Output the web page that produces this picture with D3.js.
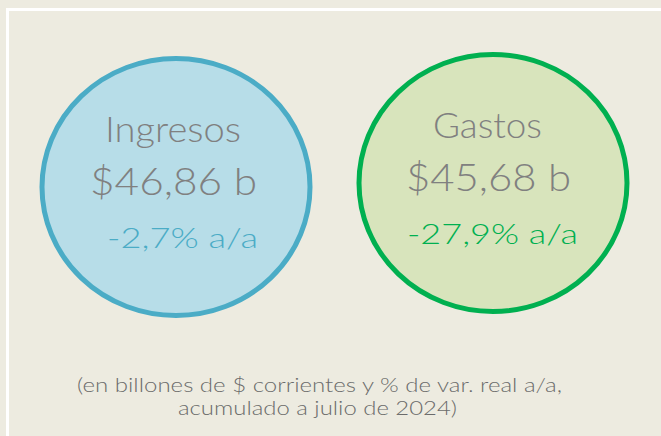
<!DOCTYPE html>
<html>
<head>
<script src="https://d3js.org/d3.v7.min.js"></script>
<style>
  body { margin: 0; background: #EDEBE0; }
  svg text { font-family: Lato, "Open Sans", sans-serif; font-weight: 300; }
</style>
</head>
<body>
<svg id="chart" width="661" height="436"></svg>
<script>
  // datos
  var categories = ["Ingresos", "Gastos"];
  var amounts = [46.86, 45.68];          // billones de $
  var changes = [-2.7, -27.9];           // % var. real a/a
  var strokeColors = ["#4BACC6", "#00B050"];
  var fillColors = ["#B7DDE8", "#D8E4BC"];
  var note = ["(en billones de $ corrientes y % de var. real a/a,", "acumulado a julio de 2024)"];

  var fmt = function(v) { return v.toFixed(2).replace(".", ","); };
  var fmtPct = function(v) { return v.toFixed(1).replace(".", ",") + "% a/a"; };

  var svg = d3.select("#chart");
  svg.append("rect").attr("width", 661).attr("height", 436).attr("fill", "#EDEBE0");

  // marco blanco
  svg.append("path")
    .attr("d", "M7.5,436V9.5H661")
    .attr("fill", "none").attr("stroke", "#fff").attr("stroke-width", 3);

  var x = d3.scalePoint().domain(categories).range([176, 493]);
  var y = d3.scalePoint().domain(categories).range([187, 183]);

  var data = categories.map(function(c, i) {
    return { name: c, amount: amounts[i], change: changes[i], stroke: strokeColors[i], fill: fillColors[i] };
  });

  var g = svg.selectAll("g.bubble").data(data).enter().append("g")
    .attr("class", "bubble")
    .attr("transform", function(d) { return "translate(" + x(d.name) + "," + y(d.name) + ")"; });

  g.append("ellipse")
    .attr("rx", 134).attr("ry", 128.5)
    .attr("fill", function(d) { return d.fill; })
    .attr("stroke", function(d) { return d.stroke; })
    .attr("stroke-width", 5);

  g.append("text")
    .attr("x", function(d, i) { return i === 0 ? -3 : -5.5; })
    .attr("y", -45)
    .attr("text-anchor", "middle")
    .attr("font-size", 35)
    .attr("fill", "#808080")
    .attr("textLength", function(d, i) { return i === 0 ? 136 : 109; })
    .attr("lengthAdjust", "spacingAndGlyphs")
    .text(function(d) { return d.name; });

  g.append("text")
    .attr("x", function(d, i) { return i === 0 ? -2.5 : -4.5; })
    .attr("y", 8)
    .attr("text-anchor", "middle")
    .attr("font-size", 38)
    .attr("fill", "#808080")
    .attr("textLength", function(d, i) { return i === 0 ? 167 : 165; })
    .attr("lengthAdjust", "spacingAndGlyphs")
    .text(function(d) { return "$" + fmt(d.amount) + " b"; });

  g.append("text")
    .attr("x", function(d, i) { return i === 0 ? 6.5 : -0.5; })
    .attr("y", 61)
    .attr("text-anchor", "middle")
    .attr("font-size", 27)
    .attr("fill", function(d) { return d.stroke; })
    .attr("textLength", function(d, i) { return i === 0 ? 151 : 171; })
    .attr("lengthAdjust", "spacingAndGlyphs")
    .text(function(d) { return fmtPct(d.change); });

  svg.selectAll("text.note").data(note).enter().append("text")
    .attr("class", "note")
    .attr("x", function(d, i) { return i === 0 ? 319.5 : 317.5; })
    .attr("y", function(d, i) { return 392 + i * 23; })
    .attr("text-anchor", "middle")
    .attr("font-size", 19)
    .attr("fill", "#6B6B6B")
    .attr("textLength", function(d, i) { return i === 0 ? 485 : 279; })
    .attr("lengthAdjust", "spacingAndGlyphs")
    .text(function(d) { return d; });
</script>
</body>
</html>
